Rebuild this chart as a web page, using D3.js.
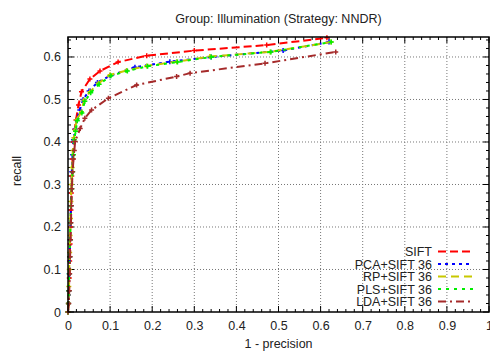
<!DOCTYPE html>
<html><head><meta charset="utf-8">
<script src="https://cdn.jsdelivr.net/npm/d3@7"></script>
<style>body{margin:0;background:#fff}svg{display:block}text{font-family:"Liberation Sans",Arial,sans-serif;fill:#222}</style>
</head><body><svg id="c" width="490" height="352"></svg>
<script>
const title = "Group: Illumination (Strategy: NNDR)";
const xLabel = "1 - precision";
const yLabel = "recall";
const xTicks = [0,0.1,0.2,0.3,0.4,0.5,0.6,0.7,0.8,0.9,1];
const xTickLabels = ["0","0.1","0.2","0.3","0.4","0.5","0.6","0.7","0.8","0.9","1"];
const yTicks = [0,0.1,0.2,0.3,0.4,0.5,0.6];
const yTickLabels = ["0","0.1","0.2","0.3","0.4","0.5","0.6"];
const seriesNames = ["SIFT","PCA+SIFT 36","RP+SIFT 36","PLS+SIFT 36","LDA+SIFT 36"];

const siftX = [0,0.001,0.002,0.003,0.004,0.005,0.006,0.007,0.008,0.009,0.011,0.013,0.016,0.019,0.025,0.032,0.052,0.076,0.119,0.187,0.30,0.472,0.615];
const siftY = [0,0.02,0.05,0.08,0.12,0.16,0.2,0.24,0.28,0.32,0.36,0.4,0.43,0.452,0.487,0.518,0.548,0.567,0.588,0.603,0.615,0.628,0.645];
const pcaX = [0,0.001,0.002,0.003,0.004,0.005,0.006,0.007,0.008,0.009,0.011,0.013,0.017,0.021,0.028,0.036,0.05,0.07,0.1,0.159,0.242,0.34,0.511,0.62];
const pcaY = [0,0.02,0.05,0.09,0.13,0.17,0.21,0.25,0.29,0.33,0.37,0.405,0.43,0.452,0.475,0.5,0.52,0.54,0.556,0.576,0.589,0.6,0.615,0.635];
const rpX = [0,0.001,0.002,0.003,0.004,0.005,0.006,0.007,0.008,0.01,0.012,0.014,0.017,0.02,0.032,0.038,0.052,0.072,0.1,0.139,0.187,0.258,0.337,0.48,0.625];
const rpY = [0,0.02,0.06,0.1,0.14,0.18,0.22,0.26,0.3,0.34,0.38,0.41,0.428,0.452,0.471,0.499,0.518,0.538,0.558,0.568,0.579,0.589,0.601,0.612,0.635];
const plsX = [0,0.001,0.002,0.003,0.004,0.005,0.006,0.007,0.009,0.011,0.013,0.015,0.018,0.022,0.033,0.04,0.054,0.074,0.102,0.141,0.189,0.26,0.34,0.482,0.625];
const plsY = [0,0.02,0.05,0.09,0.13,0.17,0.21,0.25,0.29,0.33,0.37,0.405,0.425,0.45,0.468,0.496,0.516,0.536,0.556,0.567,0.578,0.588,0.6,0.612,0.635];
const ldaX = [0,0.002,0.003,0.004,0.005,0.006,0.007,0.008,0.009,0.011,0.013,0.015,0.017,0.029,0.04,0.056,0.096,0.163,0.258,0.29,0.468,0.636];
const ldaY = [0,0.02,0.05,0.09,0.13,0.17,0.21,0.25,0.29,0.33,0.36,0.38,0.401,0.432,0.456,0.475,0.503,0.534,0.554,0.562,0.585,0.612];

const seriesX = [siftX,pcaX,rpX,plsX,ldaX];
const seriesY = [siftY,pcaY,rpY,plsY,ldaY];
const colors = ["#ff0000","#0000ff","#c8c800","#00ee00","#a52a2a"];
const dashes = ["8,4","3,4","8,5","3,5","8,4,2,4"];

const L=68,R=489,T=37,B=312;
const FS = 12.5;
const svg = d3.select("#c");
const x = d3.scaleLinear().domain([0,1]).range([L,R]);
const y = d3.scaleLinear().domain([0,0.647]).range([B,T]);

// grid
const g = svg.append("g");
xTicks.slice(1,-1).forEach(v=>g.append("line").attr("x1",x(v)).attr("x2",x(v)).attr("y1",T).attr("y2",B).attr("stroke","#777").attr("stroke-dasharray","1,2").attr("stroke-width",1));
yTicks.slice(1).forEach(v=>g.append("line").attr("x1",L).attr("x2",R).attr("y1",y(v)).attr("y2",y(v)).attr("stroke","#777").attr("stroke-dasharray","1,2").attr("stroke-width",1));

// ticks inward (all four sides)
const minorX = d3.range(0,1.0001,0.02), minorY = d3.range(0,0.647,0.02);
const tk = svg.append("g").attr("stroke","#000").attr("stroke-width",1);
minorX.forEach(v=>{const maj=Math.abs(v*10-Math.round(v*10))<1e-6;const l=maj?6:3;
  tk.append("line").attr("x1",x(v)).attr("x2",x(v)).attr("y1",B).attr("y2",B-l);
  tk.append("line").attr("x1",x(v)).attr("x2",x(v)).attr("y1",T).attr("y2",T+l);});
minorY.forEach(v=>{const maj=Math.abs(v*10-Math.round(v*10))<1e-6;const l=maj?6:3;
  tk.append("line").attr("y1",y(v)).attr("y2",y(v)).attr("x1",L).attr("x2",L+l);
  tk.append("line").attr("y1",y(v)).attr("y2",y(v)).attr("x1",R).attr("x2",R-l);});

// tick labels via axes
const xAxis = d3.axisBottom(x).tickValues(xTicks).tickFormat((d,i)=>xTickLabels[i]).tickSize(0).tickPadding(9);
const ax = svg.append("g").attr("transform",`translate(0,${B})`).call(xAxis);
ax.select(".domain").remove();
ax.selectAll("text").attr("font-size",FS).attr("fill","#222").style("font-family","Liberation Sans, Arial, sans-serif");
const yAxis = d3.axisLeft(y).tickValues(yTicks).tickFormat((d,i)=>yTickLabels[i]).tickSize(0).tickPadding(7);
const ay = svg.append("g").attr("transform",`translate(${L},0)`).call(yAxis);
ay.select(".domain").remove();
ay.selectAll("text").attr("font-size",FS).attr("fill","#222").style("font-family","Liberation Sans, Arial, sans-serif");

// series
const line = d3.line().x(d=>x(d[0])).y(d=>y(d[1]));
const plot = svg.append("g");
seriesNames.forEach((n,i)=>{
  const pts = seriesX[i].map((v,j)=>[v,seriesY[i][j]]);
  plot.append("path").attr("d",line(pts)).attr("fill","none").attr("stroke",colors[i]).attr("stroke-width",2).attr("stroke-dasharray",dashes[i]);
  pts.forEach(p=>{
    plot.append("path").attr("d",`M${x(p[0])-2.5},${y(p[1])}h5M${x(p[0])},${y(p[1])-2.5}v5`).attr("stroke",colors[i]).attr("stroke-width",1.5);
  });
});

// border
svg.append("rect").attr("x",L).attr("y",T).attr("width",R-L).attr("height",B-T).attr("fill","none").attr("stroke","#000").attr("stroke-width",1.5);

// legend
const legY0 = 251.5, legDy = 12.5;
seriesNames.forEach((n,i)=>{
  const yy = legY0 + i*legDy;
  svg.append("text").attr("x",432).attr("y",yy+4.5).attr("text-anchor","end").attr("font-size",FS).text(n);
  svg.append("line").attr("x1",438).attr("x2",473).attr("y1",yy).attr("y2",yy).attr("stroke",colors[i]).attr("stroke-width",2).attr("stroke-dasharray",dashes[i]);
});

// titles
svg.append("text").attr("x",(L+R)/2).attr("y",23).attr("text-anchor","middle").attr("font-size",FS).text(title);
svg.append("text").attr("x",(L+R)/2).attr("y",348).attr("text-anchor","middle").attr("font-size",FS).text(xLabel);
svg.append("text").attr("transform",`translate(21,171) rotate(-90)`).attr("text-anchor","middle").attr("font-size",FS).text(yLabel);
</script></body></html>
